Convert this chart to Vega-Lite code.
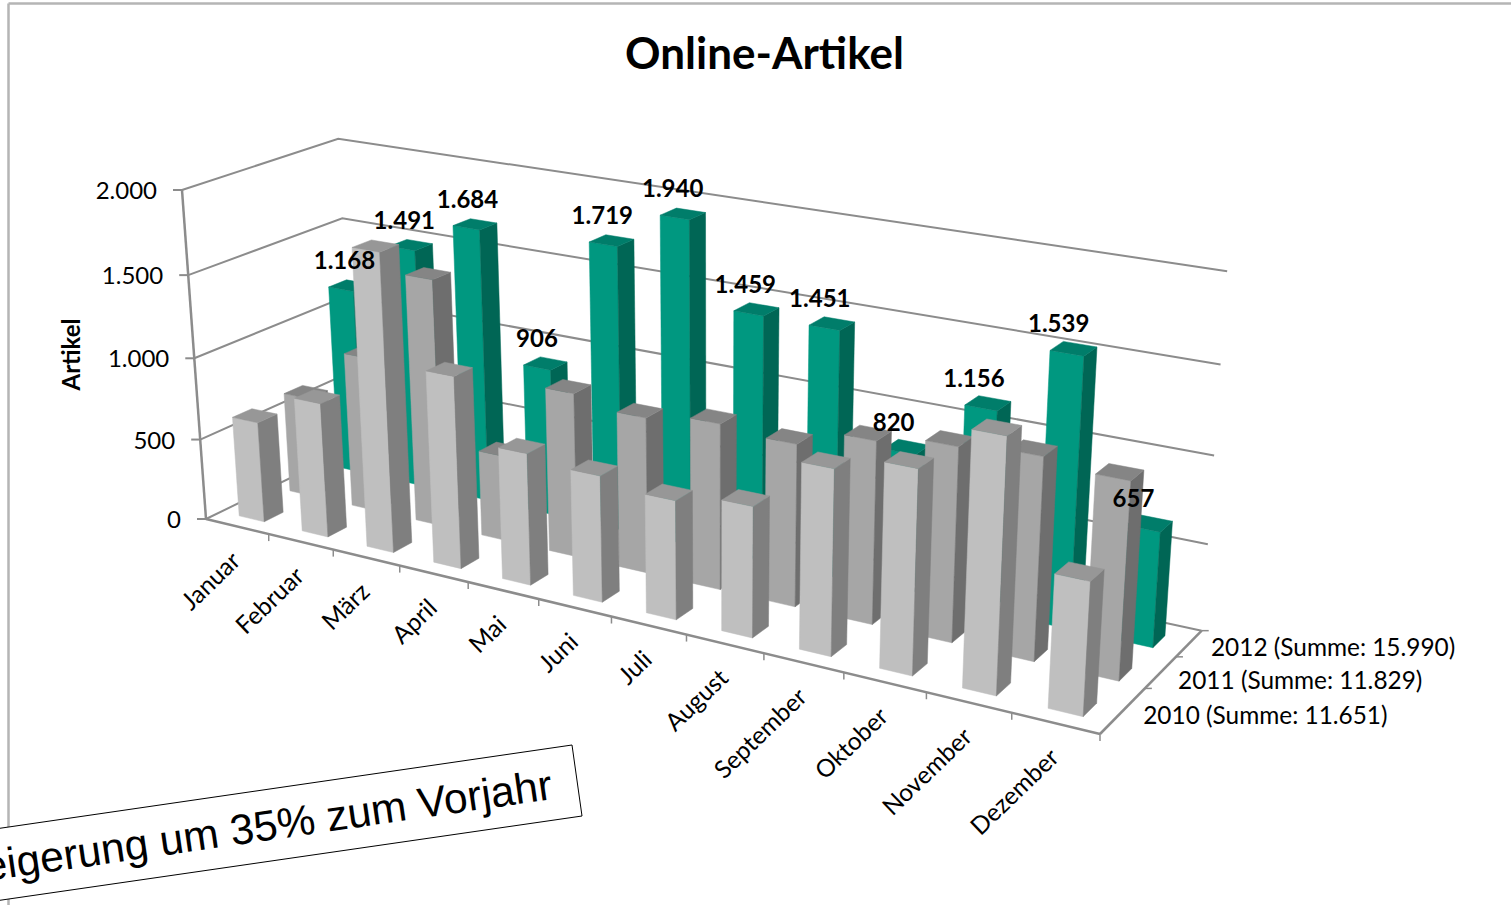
{"$schema":"https://vega.github.io/schema/vega-lite/v6.json","width":1511,"height":905,"padding":0,"autosize":{"type":"none"},"background":"white","config":{"view":{"stroke":null},"font":"Lato"},"title":{"text":"Online-Artikel","font":"Lato","fontSize":44,"fontWeight":"bold","color":"black","offset":-78,"dx":9},"datasets":{"bars":[{"year":2012,"month":"Januar","value":1168},{"year":2012,"month":"Februar","value":1491},{"year":2012,"month":"März","value":1684},{"year":2012,"month":"April","value":906},{"year":2012,"month":"Mai","value":1719},{"year":2012,"month":"Juni","value":1940},{"year":2012,"month":"Juli","value":1459},{"year":2012,"month":"August","value":1451},{"year":2012,"month":"September","value":820},{"year":2012,"month":"Oktober","value":1156},{"year":2012,"month":"November","value":1539},{"year":2012,"month":"Dezember","value":657},{"year":2011,"month":"Januar","value":625},{"year":2011,"month":"Februar","value":955},{"year":2011,"month":"März","value":1505},{"year":2011,"month":"April","value":520},{"year":2011,"month":"Mai","value":985},{"year":2011,"month":"Juni","value":925},{"year":2011,"month":"Juli","value":975},{"year":2011,"month":"August","value":945},{"year":2011,"month":"September","value":1050},{"year":2011,"month":"Oktober","value":1105},{"year":2011,"month":"November","value":1140},{"year":2011,"month":"Dezember","value":1099},{"year":2010,"month":"Januar","value":620},{"year":2010,"month":"Februar","value":820},{"year":2010,"month":"März","value":1785},{"year":2010,"month":"April","value":1145},{"year":2010,"month":"Mai","value":780},{"year":2010,"month":"Juni","value":740},{"year":2010,"month":"Juli","value":690},{"year":2010,"month":"August","value":750},{"year":2010,"month":"September","value":1050},{"year":2010,"month":"Oktober","value":1140},{"year":2010,"month":"November","value":1400},{"year":2010,"month":"Dezember","value":731}],"levels":[{"level":0},{"level":500},{"level":1000},{"level":1500},{"level":2000}],"series":[{"year":2010,"label":"2010 (Summe: 11.651)"},{"year":2011,"label":"2011 (Summe: 11.829)"},{"year":2012,"label":"2012 (Summe: 15.990)"}],"edges":[{"edge":0},{"edge":1},{"edge":2}],"note":[{"note":"Steigerung um 35% zum Vorjahr"}]},"encoding":{"x":{"field":"px","type":"quantitative","scale":{"domain":[8,1511],"range":[8,1511],"nice":false,"zero":false},"axis":{"orient":"top","offset":-3,"labels":false,"ticks":false,"grid":false,"title":null,"domainColor":"#b5b5b5","domainWidth":2.5}},"y":{"field":"py","type":"quantitative","scale":{"domain":[905,3],"range":[905,3],"nice":false,"zero":false},"axis":{"orient":"left","offset":-8,"labels":false,"ticks":false,"grid":false,"title":"Artikel","titleFont":"Lato","titleFontSize":24,"titleFontWeight":"bold","titleColor":"black","titleX":64,"titleY":354,"titleBaseline":"middle","titleAngle":270,"domainColor":"#b5b5b5","domainWidth":2.5}}},"layer":[{"data":{"name":"levels"},"transform":[{"calculate":"[0,1,2]","as":"k"},{"flatten":["k"]},{"calculate":"[0,0,1][datum.k]","as":"u"},{"calculate":"[0,1,1][datum.k]","as":"w"},{"calculate":"datum.level/2000","as":"v"},{"calculate":"1-0.17*datum.u+0.075*datum.w-0.045*datum.v","as":"d"},{"calculate":"(206+707*datum.u+174.55*datum.w-32.19*datum.v)/datum.d","as":"px"},{"calculate":"(519+90.22*datum.u-38.475*datum.w-337.55*datum.v)/datum.d","as":"py"}],"mark":{"type":"line","stroke":"#8c8c8c","strokeWidth":2},"encoding":{"detail":{"field":"level"},"order":{"field":"k"}}},{"data":{"name":"edges"},"transform":[{"calculate":"[0,1]","as":"k"},{"flatten":["k"]},{"calculate":"[[0,1],[1,1],[0,0]][datum.edge][datum.k]","as":"u"},{"calculate":"[[0,0],[0,1],[0,0]][datum.edge][datum.k]","as":"w"},{"calculate":"[[0,0],[0,0],[0,1]][datum.edge][datum.k]","as":"v"},{"calculate":"1-0.17*datum.u+0.075*datum.w-0.045*datum.v","as":"d"},{"calculate":"(206+707*datum.u+174.55*datum.w-32.19*datum.v)/datum.d","as":"px"},{"calculate":"(519+90.22*datum.u-38.475*datum.w-337.55*datum.v)/datum.d","as":"py"}],"mark":{"type":"line","stroke":"#8c8c8c","strokeWidth":2.5},"encoding":{"detail":{"field":"edge"},"order":{"field":"k"}}},{"data":{"name":"levels"},"transform":[{"calculate":"[0,1]","as":"k"},{"flatten":["k"]},{"calculate":"datum.level/2000","as":"v"},{"calculate":"1-0.045*datum.v","as":"d"},{"calculate":"(206-32.19*datum.v)/datum.d-9*datum.k","as":"px"},{"calculate":"(519-337.55*datum.v)/datum.d","as":"py"}],"mark":{"type":"line","stroke":"#8c8c8c","strokeWidth":2},"encoding":{"detail":{"field":"level"},"order":{"field":"k"}}},{"data":{"name":"bars"},"transform":[{"filter":"datum.year==2010"},{"calculate":"indexof(['Januar','Februar','März','April','Mai','Juni','Juli','August','September','Oktober','November','Dezember'],datum.month)","as":"m"},{"calculate":"[0,1]","as":"k"},{"flatten":["k"]},{"calculate":"(datum.m+1)/12","as":"u"},{"calculate":"1-0.17*datum.u","as":"d"},{"calculate":"(206+707*datum.u)/datum.d","as":"px"},{"calculate":"(519+90.22*datum.u)/datum.d+7*datum.k","as":"py"}],"mark":{"type":"line","stroke":"#8c8c8c","strokeWidth":1.5},"encoding":{"detail":{"field":"month"},"order":{"field":"k"}}},{"data":{"name":"series"},"transform":[{"calculate":"[0,1]","as":"k"},{"flatten":["k"]},{"calculate":"[0.42,0.73,1][datum.year-2010]","as":"w"},{"calculate":"0.83+0.075*datum.w","as":"d"},{"calculate":"(913+174.55*datum.w)/datum.d+7*datum.k","as":"px"},{"calculate":"(609.22-38.475*datum.w)/datum.d","as":"py"}],"mark":{"type":"line","stroke":"#8c8c8c","strokeWidth":1.5},"encoding":{"detail":{"field":"year"},"order":{"field":"k"}}},{"data":{"name":"bars"},"transform":[{"calculate":"indexof(['Januar','Februar','März','April','Mai','Juni','Juli','August','September','Oktober','November','Dezember'],datum.month)","as":"m"},{"calculate":"[0,1,2]","as":"face"},{"flatten":["face"]},{"calculate":"[0,1,2,3,4]","as":"k"},{"flatten":["k"]},{"calculate":"(datum.m+0.29+0.40*[[0,1,1,0,0],[1,1,1,1,1],[0,1,1,0,0]][datum.face][datum.k])/12","as":"u"},{"calculate":"(datum.year-2010+0.29+0.37*[[0,0,0,0,0],[0,1,1,0,0],[0,0,1,1,0]][datum.face][datum.k])/3","as":"w"},{"calculate":"datum.value/2000*[[0,0,1,1,0],[0,0,1,1,0],[1,1,1,1,1]][datum.face][datum.k]","as":"v"},{"calculate":"1-0.17*datum.u+0.075*datum.w-0.045*datum.v","as":"d"},{"calculate":"(206+707*datum.u+174.55*datum.w-32.19*datum.v)/datum.d","as":"px"},{"calculate":"(519+90.22*datum.u-38.475*datum.w-337.55*datum.v)/datum.d","as":"py"},{"calculate":"datum.year+'-'+datum.face","as":"tone"},{"calculate":"datum.year+'-'+datum.month+'-'+datum.face","as":"id"}],"mark":{"type":"line","strokeWidth":0.5},"encoding":{"detail":{"field":"id"},"order":{"field":"k"},"fill":{"field":"tone","type":"nominal","legend":null,"scale":{"domain":["2010-0","2010-1","2010-2","2011-0","2011-1","2011-2","2012-0","2012-1","2012-2"],"range":["#bfbfbf","#7f7f7f","#979797","#a6a6a6","#6e6e6e","#858585","#009880","#006655","#007d6a"]}},"stroke":{"field":"tone","type":"nominal","legend":null,"scale":{"domain":["2010-0","2010-1","2010-2","2011-0","2011-1","2011-2","2012-0","2012-1","2012-2"],"range":["#bfbfbf","#7f7f7f","#979797","#a6a6a6","#6e6e6e","#858585","#009880","#006655","#007d6a"]}}}},{"data":{"name":"bars"},"transform":[{"filter":"datum.year==2012"},{"calculate":"indexof(['Januar','Februar','März','April','Mai','Juni','Juli','August','September','Oktober','November','Dezember'],datum.month)","as":"m"},{"calculate":"(datum.m+0.5)/12","as":"u"},{"calculate":"(2+0.5)/3","as":"w"},{"calculate":"datum.value/2000","as":"v"},{"calculate":"1-0.17*datum.u+0.075*datum.w-0.045*datum.v","as":"d"},{"calculate":"(206+707*datum.u+174.55*datum.w-32.19*datum.v)/datum.d-7-11*datum.u","as":"px"},{"calculate":"(519+90.22*datum.u-38.475*datum.w-337.55*datum.v)/datum.d-23","as":"py"},{"calculate":"replace(format(datum.value,',d'),',','.')","as":"txt"}],"mark":{"type":"text","font":"Lato","fontSize":24,"fontWeight":"bold","color":"black","align":"center","baseline":"middle"},"encoding":{"text":{"field":"txt"}}},{"data":{"name":"bars"},"transform":[{"filter":"datum.year==2010"},{"calculate":"indexof(['Januar','Februar','März','April','Mai','Juni','Juli','August','September','Oktober','November','Dezember'],datum.month)","as":"m"},{"calculate":"(datum.m+0.5)/12","as":"u"},{"calculate":"1-0.17*datum.u","as":"d"},{"calculate":"(206+707*datum.u)/datum.d","as":"px"},{"calculate":"(519+90.22*datum.u)/datum.d+31","as":"py"}],"mark":{"type":"text","font":"Lato","fontSize":24.5,"color":"black","align":"right","baseline":"middle","angle":316},"encoding":{"text":{"field":"month"}}},{"data":{"name":"levels"},"transform":[{"calculate":"datum.level/2000","as":"v"},{"calculate":"1-0.045*datum.v","as":"d"},{"calculate":"(206-32.19*datum.v)/datum.d-25","as":"px"},{"calculate":"(519-337.55*datum.v)/datum.d+2","as":"py"},{"calculate":"replace(format(datum.level,',d'),',','.')","as":"txt"}],"mark":{"type":"text","font":"Lato","fontSize":24,"color":"black","align":"right","baseline":"middle"},"encoding":{"text":{"field":"txt"}}},{"data":{"name":"series"},"transform":[{"calculate":"(datum.year-2010+0.5)/3","as":"w"},{"calculate":"0.83+0.075*datum.w","as":"d"},{"calculate":"(913+174.55*datum.w)/datum.d+25","as":"px"},{"calculate":"(609.22-38.475*datum.w)/datum.d+2","as":"py"}],"mark":{"type":"text","font":"Lato","fontSize":24.4,"color":"black","align":"left","baseline":"middle"},"encoding":{"text":{"field":"label"}}},{"data":{"name":"note"},"transform":[{"calculate":"[0,1,2,3,4]","as":"k"},{"flatten":["k"]},{"calculate":"[-5,572,582,-5,-5][datum.k]","as":"px"},{"calculate":"[829,745,816,901,829][datum.k]","as":"py"}],"mark":{"type":"line","fill":"white","stroke":"black","strokeWidth":1},"encoding":{"order":{"field":"k"}}},{"data":{"name":"note"},"transform":[{"calculate":"552","as":"px"},{"calculate":"786","as":"py"}],"mark":{"type":"text","font":"Liberation Sans","fontSize":42.7,"color":"black","align":"right","baseline":"middle","angle":351.75},"encoding":{"text":{"field":"note"}}}]}
